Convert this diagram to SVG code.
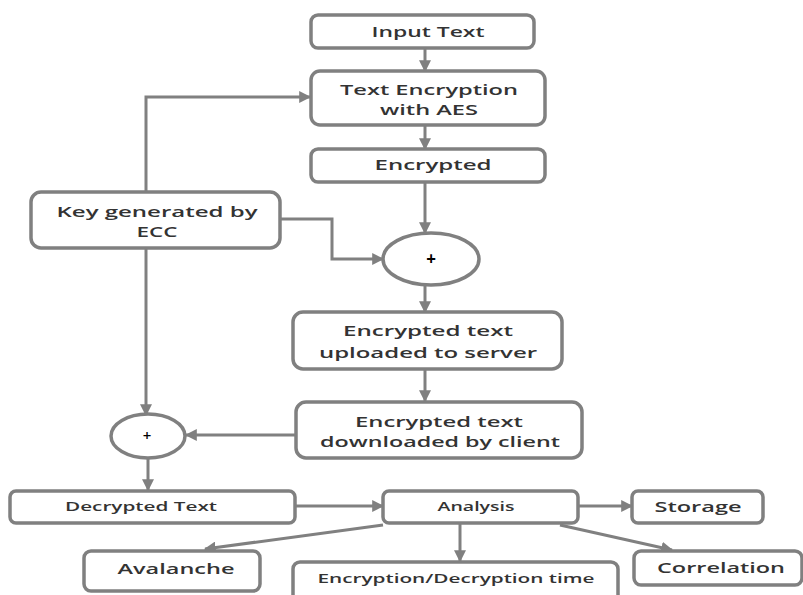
<svg xmlns="http://www.w3.org/2000/svg" width="803" height="595" viewBox="0 0 803 595">
<defs>
<marker id="ah" viewBox="0 0 10 10" refX="9" refY="5" markerWidth="4" markerHeight="4" orient="auto" markerUnits="strokeWidth">
<path d="M0,0 L10,5 L0,10 z" fill="#808080"/>
</marker>
<style>
.box{fill:#fff;stroke:#808080;stroke-width:3.5}
.t{font-family:"Open Sans","Liberation Sans",sans-serif;fill:#333;text-anchor:middle;dominant-baseline:central;font-weight:600}
.big{font-size:15px}
.sm{font-size:12px}
.c{fill:none;stroke:#808080;stroke-width:3;marker-end:url(#ah)}
</style>
</defs>
<rect width="803" height="595" fill="#fff"/>
<g id="connectors">
<path class="c" d="M425,48 V71"/>
<path class="c" d="M425,125 V149"/>
<path class="c" d="M425,182 V233"/>
<path class="c" d="M146,192 V97 H310"/>
<path class="c" d="M280,219 H332 V259 H383"/>
<path class="c" d="M425,285 V312"/>
<path class="c" d="M425,369 V401"/>
<path class="c" d="M296,435 H186"/>
<path class="c" d="M146,248 V415"/>
<path class="c" d="M148,458 V490"/>
<path class="c" d="M295,506 H383"/>
<path class="c" d="M578,506 H632"/>
<path class="c" d="M460,523 V561"/>
<path class="c" d="M383,525 L205,549"/>
<path class="c" d="M560,525 L672,550"/>
</g>
<g id="input">
<rect class="box" x="311" y="15" width="223" height="33" rx="7"/>
<text class="t big" x="428" y="31" textLength="113" lengthAdjust="spacingAndGlyphs">Input Text</text>
</g>
<g id="aes">
<rect class="box" x="311" y="71" width="234" height="54" rx="9"/>
<text class="t big" x="429" y="89" textLength="178" lengthAdjust="spacingAndGlyphs">Text Encryption</text>
<text class="t big" x="429" y="109" textLength="98" lengthAdjust="spacingAndGlyphs">with AES</text>
</g>
<g id="encrypted">
<rect class="box" x="311" y="149" width="234" height="33" rx="7"/>
<text class="t big" x="433" y="164" textLength="117" lengthAdjust="spacingAndGlyphs">Encrypted</text>
</g>
<g id="key">
<rect class="box" x="31" y="192" width="249" height="56" rx="10"/>
<text class="t big" x="157" y="211" textLength="201" lengthAdjust="spacingAndGlyphs">Key generated by</text>
<text class="t big" x="157" y="231" textLength="41" lengthAdjust="spacingAndGlyphs">ECC</text>
</g>
<g id="xor1">
<ellipse class="box" cx="431" cy="259" rx="48" ry="26"/>
<text class="t big" x="431" y="258" style="fill:#000;font-weight:bold;font-size:17px">+</text>
</g>
<g id="uploaded">
<rect class="box" x="293" y="312" width="269" height="57" rx="10"/>
<text class="t big" x="428" y="330" textLength="170" lengthAdjust="spacingAndGlyphs">Encrypted text</text>
<text class="t big" x="428" y="352" textLength="218" lengthAdjust="spacingAndGlyphs">uploaded to server</text>
</g>
<g id="downloaded">
<rect class="box" x="296" y="402" width="286" height="56" rx="10"/>
<text class="t big" x="439" y="421" textLength="168" lengthAdjust="spacingAndGlyphs">Encrypted text</text>
<text class="t big" x="440" y="441" textLength="240" lengthAdjust="spacingAndGlyphs">downloaded by client</text>
</g>
<g id="xor2">
<ellipse class="box" cx="148" cy="436" rx="37" ry="22"/>
<text class="t big" x="147" y="435" style="fill:#000">+</text>
</g>
<g id="decrypted">
<rect class="box" x="10" y="491" width="285" height="32" rx="6"/>
<text class="t sm" x="141" y="506" textLength="152" lengthAdjust="spacingAndGlyphs">Decrypted Text</text>
</g>
<g id="analysis">
<rect class="box" x="383" y="491" width="195" height="32" rx="6"/>
<text class="t sm" x="476" y="506" textLength="77" lengthAdjust="spacingAndGlyphs">Analysis</text>
</g>
<g id="storage">
<rect class="box" x="632" y="491" width="131" height="32" rx="6"/>
<text class="t big" x="698" y="506" textLength="87" lengthAdjust="spacingAndGlyphs">Storage</text>
</g>
<g id="avalanche">
<rect class="box" x="84" y="551" width="176" height="40" rx="7"/>
<text class="t big" x="176" y="568" textLength="117" lengthAdjust="spacingAndGlyphs">Avalanche</text>
</g>
<g id="time">
<rect class="box" x="293" y="562" width="325" height="40" rx="7"/>
<text class="t sm" x="456" y="578" textLength="277" lengthAdjust="spacingAndGlyphs">Encryption/Decryption time</text>
</g>
<g id="correlation">
<rect class="box" x="634" y="551" width="168" height="34" rx="7"/>
<text class="t big" x="721" y="567" textLength="128" lengthAdjust="spacingAndGlyphs">Correlation</text>
</g>
</svg>
